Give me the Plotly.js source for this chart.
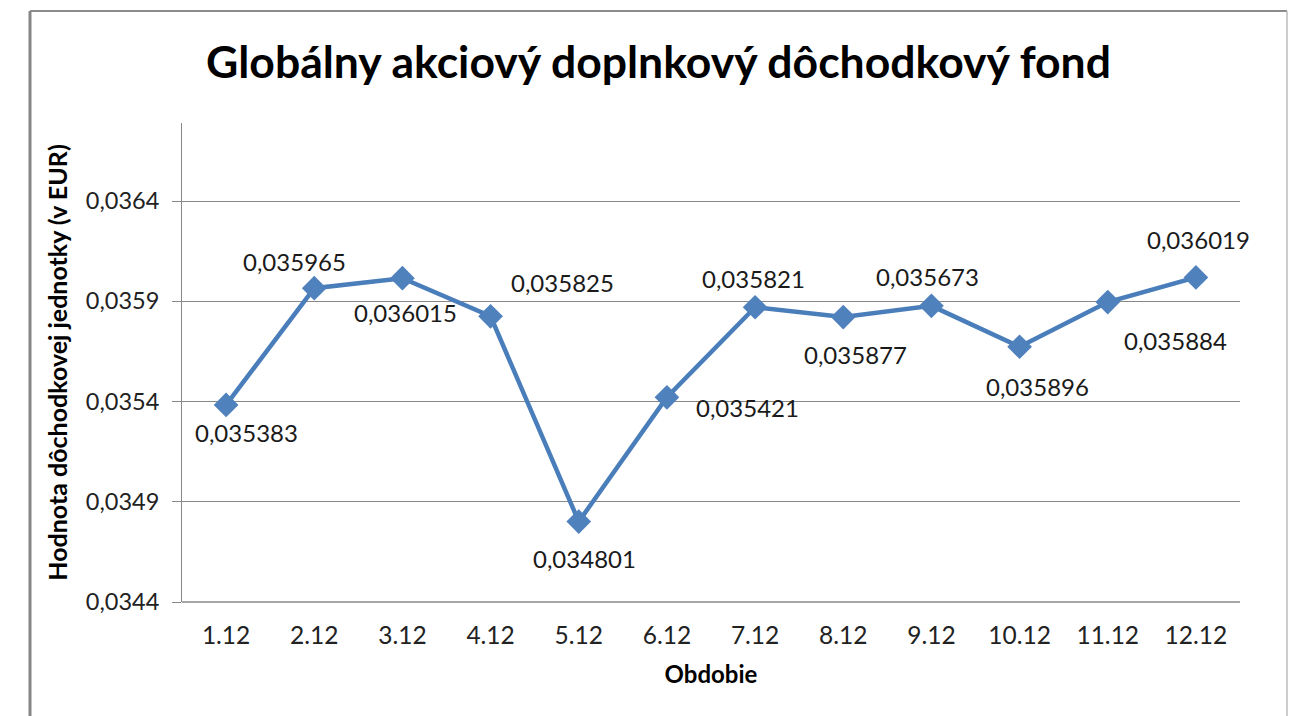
<!DOCTYPE html>
<html>
<head>
<meta charset="utf-8">
<script src="https://cdn.plot.ly/plotly-3.0.1.min.js"></script>
<style>
  html, body { margin: 0; padding: 0; background: #fff; }
  #chart { width: 1289px; height: 716px; }
</style>
</head>
<body>
<div id="chart"></div>
<script>
// Data
const categories = ["1.12", "2.12", "3.12", "4.12", "5.12", "6.12", "7.12", "8.12", "9.12", "10.12", "11.12", "12.12"];
const values = [0.035383, 0.035965, 0.036015, 0.035825, 0.034801, 0.035421, 0.035870, 0.035821, 0.035877, 0.035673, 0.035896, 0.036019];
const labelTexts = ["0,035383", "0,035965", "0,036015", "0,035825", "0,034801", "0,035421", "0,035821", "0,035877", "0,035673", "0,035896", "0,035884", "0,036019"];
// label offsets from each point (pixels): [dx, dy] with dy positive downward
const labelOffsets = [[20, 28], [-20, -27], [3, 34], [72, -34], [6, 37], [81, 10], [-2, -29], [12, 37], [-4, -29], [18, 40], [68, 38], [3, -38]];

const FONT = "Lato, 'Open Sans', sans-serif";
const W = 1289, H = 716;
const mL = 182, mR = 49, mT = 123, mB = 114;
const plotW = W - mL - mR, plotH = H - mT - mB;

const trace = {
  x: categories,
  y: values,
  type: "scatter",
  mode: "lines+markers",
  line: { color: "#4A7EBB", width: 4.5 },
  marker: { symbol: "diamond", size: 19, color: "#4F81BD", line: { width: 0 } },
  hoverinfo: "x+y",
  cliponaxis: false
};

// annotations placed by category index (numeric-looking category names would be misread as positions)
const annotations = categories.map((c, i) => ({
  x: i, y: values[i], xref: "x", yref: "y",
  text: labelTexts[i], showarrow: false,
  xshift: labelOffsets[i][0], yshift: -labelOffsets[i][1],
  font: { family: FONT, size: 24, color: "#1a1a1a" }
}));

// outer chart border (Excel chart area) in paper coordinates
const bx0 = (30 - mL) / plotW, bx1 = (1287 - mL) / plotW;
const by1 = (H - mB - 11) / plotH, by0 = (H - mB - 760) / plotH;

const layout = {
  width: W, height: H,
  margin: { l: mL, r: mR, t: mT, b: mB, pad: 0 },
  paper_bgcolor: "#ffffff",
  plot_bgcolor: "#ffffff",
  separators: ",.",
  showlegend: false,
  title: {
    text: "<b>Globálny akciový doplnkový dôchodkový fond</b>",
    font: { family: FONT, size: 44.5, color: "#000000" },
    xref: "container", yref: "container",
    x: 658.5 / W, xanchor: "center",
    y: 1 - 62 / H, yanchor: "middle"
  },
  xaxis: {
    type: "category",
    range: [-0.5, 11.5],
    showgrid: false,
    showline: false,
    zeroline: false,
    ticks: "",
    tickfont: { family: FONT, size: 24.5, color: "#222222" },
    ticklabelstandoff: 16,
    title: { text: "<b>Obdobie</b>", font: { family: FONT, size: 24, color: "#000000" }, standoff: 18 },
    fixedrange: true
  },
  yaxis: {
    range: [0.0344, 0.036789],
    tick0: 0.0344, dtick: 0.0005,
    tickformat: ".4f",
    showgrid: true, gridcolor: "#888888", gridwidth: 1,
    showline: true, linecolor: "#888888", linewidth: 1,
    zeroline: false,
    ticks: "outside", ticklen: 9, tickcolor: "#888888", tickwidth: 1,
    tickfont: { family: FONT, size: 23.5, color: "#222222" },
    ticklabelstandoff: 8,
    title: { text: "<b>Hodnota dôchodkovej jednotky (v EUR)</b>", font: { family: FONT, size: 25, color: "#000000" }, standoff: 11 },
    fixedrange: true
  },
  shapes: [
    { type: "line", xref: "paper", yref: "paper", x0: 0, x1: 1, y0: 0, y1: 0, line: { color: "#888888", width: 1.5 } },
    { type: "line", xref: "paper", yref: "paper", x0: bx0, x1: bx0, y0: by0, y1: by1, line: { color: "#868686", width: 3 } },
    { type: "line", xref: "paper", yref: "paper", x0: bx0, x1: bx1, y0: by1, y1: by1, line: { color: "#8c8c8c", width: 2 } },
    { type: "line", xref: "paper", yref: "paper", x0: bx1, x1: bx1, y0: by0, y1: by1, line: { color: "#bdbdbd", width: 1.5 } }
  ],
  annotations: annotations
};

Plotly.newPlot("chart", [trace], layout, { displayModeBar: false, staticPlot: true });
</script>
</body>
</html>
